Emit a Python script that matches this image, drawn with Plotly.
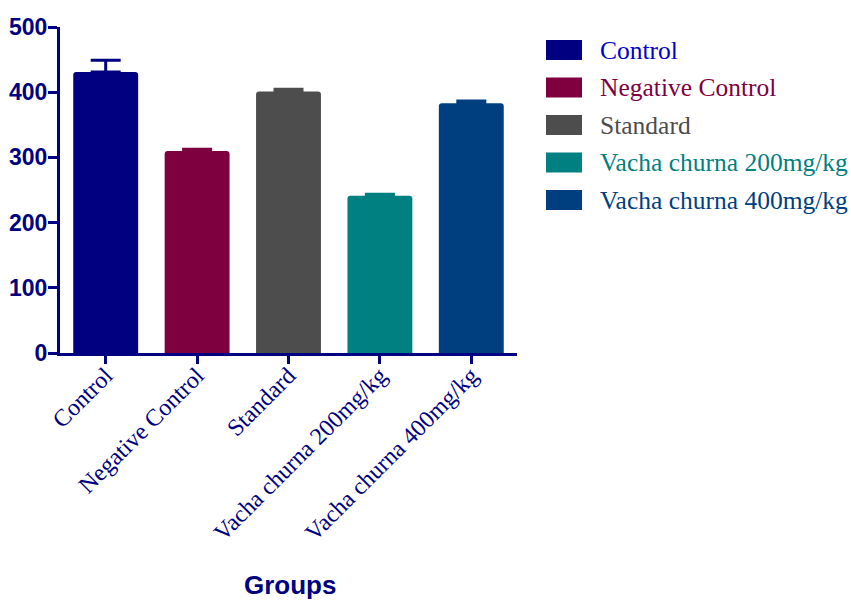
import plotly.graph_objects as go

groups = ["Control", "Negative Control", "Standard", "Vacha churna 200mg/kg", "Vacha churna 400mg/kg"]
means = [431, 310, 401, 241, 383]
errors = [18, 2.5, 3.5, 2.5, 3.5]
colors = ["#000080", "#7F003F", "#4D4D4D", "#008080", "#003F7F"]
yticks = [0, 100, 200, 300, 400, 500]

NAVY = "#000080"
PL, PR, PT, PB = 60, 517, 27, 353
fig = go.Figure()
for g, m, e, c in zip(groups, means, errors, colors):
    fig.add_trace(go.Bar(
        x=[g], y=[m], name=g, width=0.71,
        marker=dict(color=c, cornerradius=3, line=dict(width=0)),
        error_y=dict(type="data", array=[e], arrayminus=[0], symmetric=False,
                     color=c, thickness=3, width=15),
        showlegend=False,
    ))

pw = PR - PL
ph = PB - PT
def px2paper(x, y):
    return (x - PL) / pw, (PB - y) / ph

for i, (g, c) in enumerate(zip(groups, colors)):
    yc = 50 + 37.5 * i
    x0, y0 = px2paper(546, yc - 10)
    x1, y1 = px2paper(582, yc + 10)
    fig.add_shape(type="rect", xref="paper", yref="paper", x0=x0, x1=x1, y0=y1, y1=y0,
                  fillcolor=c, line=dict(width=0), layer="above")
    tx, ty = px2paper(598, yc)
    fig.add_annotation(xref="paper", yref="paper", x=tx, y=ty, text=g, showarrow=False,
                       xanchor="left", yanchor="middle",
                       font=dict(family="Liberation Serif", size=25.5,
                                 color=("#0000CC" if i == 0 else c)))

gx, gy = px2paper(290, 585)
fig.add_annotation(xref="paper", yref="paper", x=gx, y=gy, text="<b>Groups</b>", showarrow=False,
                   xanchor="center", yanchor="middle",
                   font=dict(family="Liberation Sans", size=26, color=NAVY))

fig.update_layout(
    width=851, height=600,
    margin=dict(l=PL, r=851 - PR, t=PT, b=600 - PB),
    plot_bgcolor="white", paper_bgcolor="white",
    barmode="overlay",
    xaxis=dict(
        categoryorder="array", categoryarray=groups, range=[-0.5, 4.5],
        showline=True, linecolor=NAVY, linewidth=3, ticks="outside", tickcolor=NAVY,
        ticklen=8, tickwidth=3, showgrid=False, zeroline=False, tickangle=-45,
        ticklabelstandoff=-12, automargin=False,
        tickfont=dict(family="Liberation Serif", size=24, color=NAVY),
    ),
    yaxis=dict(
        range=[0, 500], tickvals=yticks, ticktext=[f"<b>{v}</b>" for v in yticks],
        showline=True, linecolor=NAVY, linewidth=3, ticks="outside", tickcolor=NAVY,
        ticklen=9, tickwidth=3, showgrid=False, zeroline=False, automargin=False,
        ticklabelstandoff=-4,
        tickfont=dict(family="Liberation Sans", size=23, color=NAVY),
    ),
)

fig.write_html("out.html")
